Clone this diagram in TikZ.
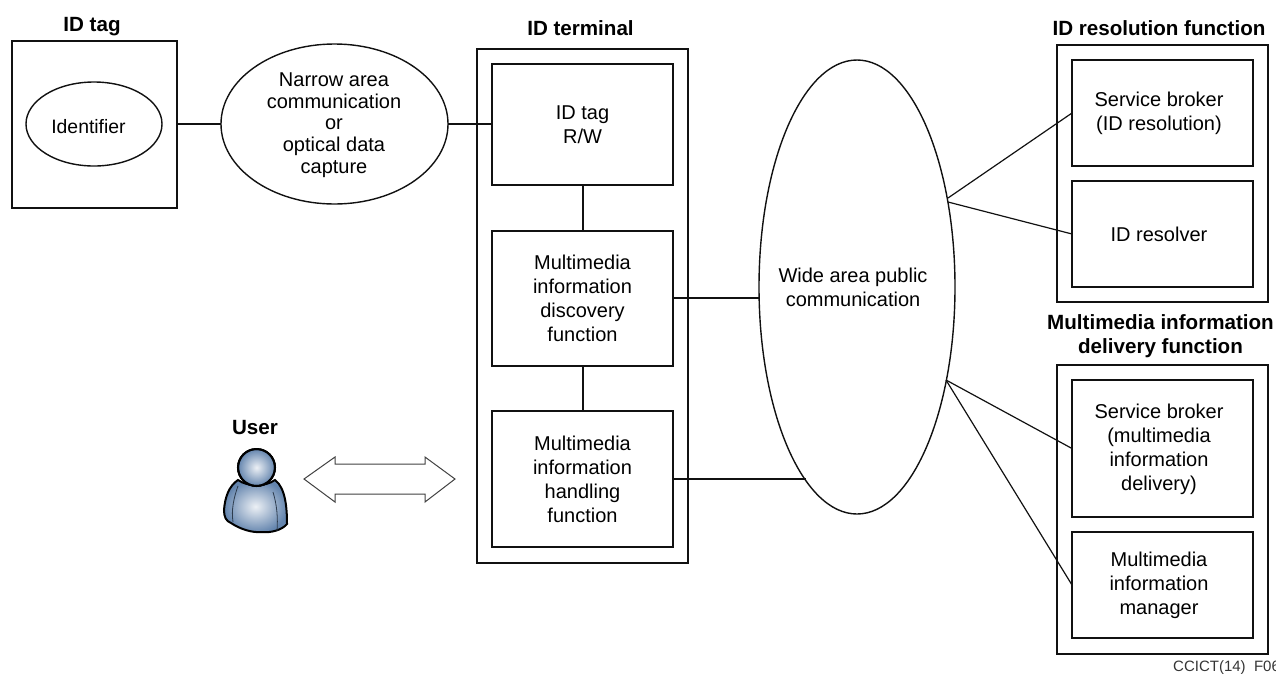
\documentclass[tikz,border=0pt]{standalone}
\usepackage{fontspec}
\setmainfont{Liberation Sans}
\usetikzlibrary{shapes.geometric}
\definecolor{ink}{HTML}{111111}
\definecolor{skin}{HTML}{6485AE}
\tikzset{
  box/.style={draw=ink,line width=1.8pt,rectangle,inner sep=0pt,outer sep=0pt,align=center,font=\fontsize{20}{24}\selectfont},
  oval/.style={draw=ink,line width=1.4pt,ellipse,inner sep=0pt,outer sep=0pt,align=center,font=\fontsize{20}{24}\selectfont},
  lab/.style={inner sep=0pt,outer sep=0pt,align=center,font=\fontsize{20}{24}\selectfont},
  head/.style={font=\bfseries\fontsize{20.6}{24}\selectfont,align=center,inner sep=0pt},
  link/.style={draw=ink,line width=1.8pt},
  slant/.style={draw=ink,line width=1.2pt},
  persona/.style={inner color=white!88!skin,outer color=skin,draw=black,line width=2pt}
}
\newcommand{\boxat}[7][box]{\node[#1,minimum width=#5-#3,minimum height=#6-#4] (#2) at ({(#3+#5)/2},{(#4+#6)/2}) {#7};}
\begin{document}
\begin{tikzpicture}[x=1pt,y=-1pt]
\useasboundingbox (0,0) rectangle (1276,673);
% ID tag
\boxat{tag}{12}{41}{177}{208}{}
\boxat[oval]{identifier}{26}{82}{162}{166}{}
\node[lab,font=\fontsize{19.4}{24}\selectfont] (identifierl) at (88.5,126.5) {Identifier};
\node[head] (tagh) at (92,27) {ID tag};
\boxat[oval]{narrow}{221}{44}{448}{204}{}
\node[lab,font=\fontsize{20}{21.6}\selectfont] (narrowl) at (334,125) {Narrow area\\communication\\or\\optical data\\capture};
% terminal
\boxat{terminal}{477}{49}{688}{563}{}
\node[head] (termh) at (580.5,28) {ID terminal};
\boxat{rw}{492}{64}{673}{185}{ID tag\\R/W}
\boxat{disc}{492}{231}{673}{366}{Multimedia\\information\\discovery\\function}
\boxat{hand}{492}{411}{673}{547}{Multimedia\\information\\handling\\function}
% wide
\boxat[oval]{wide}{759}{60}{955}{514}{}
\node[lab] (widel) at (853,287.5) {Wide area public\\communication};
% resolution
\boxat{resol}{1057}{45}{1268}{302}{}
\node[head] (resolh) at (1159,28) {ID resolution function};
\boxat{broker}{1072}{60}{1253}{166}{}
\node[lab] (brokerl) at (1159,113) {Service broker\\(ID resolution)};
\boxat{resolver}{1072}{181}{1253}{287}{}
\node[lab] (resolverl) at (1159,234) {ID resolver};
% delivery
\boxat{deliv}{1057}{365}{1268}{654}{}
\node[head] (delivh) at (1160.5,336) {Multimedia information\\delivery function};
\boxat{mbroker}{1072}{380}{1253}{517}{}
\node[lab] (mbrokerl) at (1159,449) {Service broker\\(multimedia\\information\\delivery)};
\boxat{manager}{1072}{532}{1253}{638}{}
\node[lab] (managerl) at (1159,585) {Multimedia\\information\\manager};
% free ends on the wide ellipse
\coordinate (w1) at (760,298);
\coordinate (w2) at (806,479);
\coordinate (w3) at (948,198);
\coordinate (w4) at (948,202);
\coordinate (w5) at (946,380);
\coordinate (spine) at (583,300);
% connectors
\draw[link] (tag.east |- narrow.west) -- (narrow.west);
\draw[link] (narrow.east) -- (rw.west |- narrow.east);
\draw[link] (spine |- rw.south) -- (spine |- disc.north);
\draw[link] (spine |- disc.south) -- (spine |- hand.north);
\draw[link] (disc.east |- w1) -- (w1);
\draw[link] (hand.east |- w2) -- (w2);
\draw[slant] (w3) -- (broker.west);
\draw[slant] (w4) -- (resolver.west);
\draw[slant] (w5) -- (mbroker.west);
\draw[slant] (w5) -- (manager.west);
% user
\node[head] (userh) at (255,428) {User};
\path[persona] (238,480) .. controls (229,486) and (225,497) .. (224,510)
  .. controls (224,517) and (226,521) .. (231,523)
  .. controls (240,529) and (252,533) .. (262,532)
  .. controls (271,533) and (282,530) .. (287,524)
  .. controls (287,510) and (286,488) .. (275,480)
  .. controls (265,487) and (248,487) .. (238,480) -- cycle;
\draw[draw=skin!45!black,line width=.8pt] (238,486) .. controls (234,497) and (231,510) .. (233,522);
\draw[draw=skin!45!black,line width=.8pt] (273,492) .. controls (277,505) and (278,518) .. (277,531);
\shade[persona] (256.5,467.5) circle[radius=18.5];
\draw[black,line width=2pt] (256.5,467.5) circle[radius=18.5];
% double arrow
\draw[draw=ink!80,line width=1pt,fill=white] (304,479) -- (335,457) -- (335,464) -- (425,464) -- (425,457) -- (455,479) -- (425,502) -- (425,494) -- (335,494) -- (335,502) -- cycle;
% figure code
\node[anchor=west,inner sep=0pt,font=\fontsize{15}{16}\selectfont,text=ink!85] (code) at (1173,667.5) {CCICT(14)\ \ F06};
\end{tikzpicture}
\end{document}
